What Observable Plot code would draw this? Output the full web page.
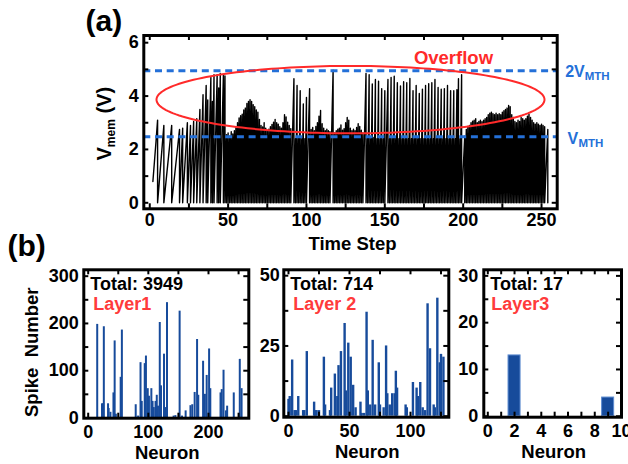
<!DOCTYPE html>
<html><head><meta charset="utf-8">
<script src="https://cdn.jsdelivr.net/npm/d3@7"></script>
<script src="https://cdn.jsdelivr.net/npm/@observablehq/plot@0.6"></script>
<style>
body{margin:0;background:#fff;}
#chart{position:relative;width:628px;height:464px;overflow:hidden;background:#fff;}
#chart svg{position:absolute;}
</style></head><body><div id="chart"></div>
<script>
// ---------- data: panel (a) membrane potential ----------
const vmemStartStep = 2;
const vmem = [
0.8,1.55,2.3,3.1,0.72,1.45,2.17,2.9,
0.58,1.16,1.74,2.32,2.9,0.55,1.1,1.65,2.2,2.75,
1.4,2.8,1.0,2.0,3.0,1.45,2.9,1.5,3.05,1.6,
3.15,1.75,3.5,2.0,4.05,2.2,4.4,3.85,2.35,4.7,
3.8,4.8,2.4,4.8,4.3,4.85,2.4,4.8,4.75,2.55,
2.62,2.5,2.66,2.58,2.7,2.85,3.0,3.18,3.26,3.32,
3.48,3.55,3.72,3.8,3.86,3.8,3.68,3.6,3.48,3.4,
3.12,2.9,2.84,3.0,2.8,2.7,2.76,2.85,2.94,3.02,
3.12,3.0,2.95,2.85,2.8,3.0,3.3,3.22,3.02,2.9,
2.78,2.3,4.65,2.4,4.4,2.45,4.2,2.4,3.7,2.4,
3.95,2.15,4.28,2.75,2.82,2.7,2.86,3.0,3.25,3.46,
2.96,2.8,2.7,2.76,2.7,2.66,2.45,4.97,2.62,2.7,
2.76,2.8,2.92,2.72,2.78,3.0,3.2,3.1,2.8,2.7,
2.76,2.7,2.82,2.96,2.86,2.72,2.62,2.4,4.85,2.4,
4.8,2.4,4.45,2.45,4.62,2.4,4.56,2.4,4.28,2.4,
4.2,2.3,4.62,2.4,4.7,2.4,4.74,2.45,4.5,2.4,
4.38,2.4,4.54,2.4,4.5,2.4,4.66,2.4,4.2,2.4,
4.4,2.4,4.1,2.4,4.26,2.4,4.4,2.4,4.46,2.4,
4.5,2.4,4.62,2.4,4.32,2.4,4.26,2.4,4.28,2.4,
4.4,2.4,4.2,2.4,4.2,2.4,4.24,4.65,2.4,4.8,
1.25,2.5,2.75,2.86,2.9,3.0,3.06,3.1,3.15,3.0,
3.05,3.1,3.04,3.1,3.15,3.2,3.3,3.36,3.4,3.34,
3.3,3.36,3.3,3.34,3.3,3.4,3.45,3.5,3.55,3.65,
3.6,3.3,3.2,3.05,3.0,3.1,3.05,3.2,3.15,3.1,
3.15,3.25,3.32,3.2,3.1,3.0,2.95,3.0,2.95,2.9,
2.95,2.9,2.85,1.4,2.75
];
const noResetSteps = [2,3,4,6,7,8,10,11,12,13,15,16,17,18,20,22,23,25,27,29,31,33,35,38,42,46,91,101,116,137,151,200,253];
const resetLevel = 0;
const vMTH = 2.475;
const twoVMTH = 4.95;
const overflowRegion = {cx: 128.1, cy: 3.866, rx: 123.8, ry: 1.264};
const overflowLabel = {t: 193.8, v: 5.21, text: "Overflow"};

// ---------- data: panel (b) spike counts ----------
const layer1Neuron = [15,23,25,26,33,34,37,42,44,46,54,56,79,83,87,89,94,96,99,101,105,107,109,112,114,116,119,121,126,128,131,142,145,152,156,162,170,173,177,181,183,191,194,197,201,203,220,222,225,229,231,242,252,255];
const layer1Count  = [198,30,30,193,30,20,12,53,163,8,86,186,28,4,117,35,115,131,62,46,62,35,22,35,48,25,202,68,135,22,244,4,5,226,4,15,26,28,54,166,48,120,50,90,146,62,53,60,101,15,25,53,124,62];
const layer2Neuron = [0,1,3,5,6,8,12,13,15,21,22,23,25,29,30,34,35,38,40,41,43,46,47,49,51,53,55,59,60,62,64,65,67,69,71,74,75,78,80,81,83,85,87,88,89,96,97,102,105,106,108,110,112,114,116,119,120,122,124,125,127];
const layer2Count  = [6,7,20,2,2,7,2,2,23,5,2,2,2,21,4,2,10,15,7,18,23,33,9,26,21,11,3,5,1,1,37,9,4,27,4,19,4,3,25,8,4,8,8,16,10,4,3,12,10,7,12,3,2,40,24,4,3,42,19,22,21];
const layer3Neuron = [2, 9];
const layer3Count  = [13, 4];
const layerTotals = [3949, 714, 17];
const layerNames = ["Layer1", "Layer 2", "Layer3"];

// ---------- styling ----------
const FONT = "'Liberation Sans', Arial, Helvetica, sans-serif";
const BLUE = "#2470d8";
const RED = "#ff2a2a";
const LRED = "#ff3b3b";
const BAR = "#174b9b";
const baseStyle = {fontFamily: FONT, fontWeight: "bold", fontSize: "18px", background: "transparent", color: "black", overflow: "visible"};
const txt = {fontFamily: FONT, fontWeight: "bold"};
const fmt = d => String(d);

function range(lo, hi, step) { const a = []; for (let k = 0; lo + k*step <= hi + 1e-9; k++) a.push(+(lo + k*step).toFixed(6)); return a; }
function frameTicks(xt, yt, fw, fh, len = 5) {
  const o = {stroke: "black", strokeWidth: 2};
  return [
    Plot.ruleX(xt, {x: d => d, insetTop: fh - len, ...o}),
    Plot.ruleX(xt, {x: d => d, insetBottom: fh - len, ...o}),
    Plot.ruleY(yt, {y: d => d, insetRight: fw - len, ...o}),
    Plot.ruleY(yt, {y: d => d, insetLeft: fw - len, ...o})
  ];
}
const chart = document.getElementById("chart");
function place(svg, left, top) { svg.style.left = left + "px"; svg.style.top = top + "px"; chart.appendChild(svg); }

// ---------- panel (a) ----------
const trace = [];
vmem.forEach((v, i) => {
  const t = vmemStartStep + i;
  trace.push({t, v});
  if (!noResetSteps.includes(t)) trace.push({t, v: resetLevel});
});
const ellipse = d3.range(0, 361, 2).map(a => {
  const r = a * Math.PI / 180;
  return {x: overflowRegion.cx + overflowRegion.rx * Math.cos(r), y: overflowRegion.cy + overflowRegion.ry * Math.sin(r)};
});
{
  const W = 628, H = 262, mL = 143.3, mR = 71.3, mT = 35, mB = 53.7;
  const fw = W - mL - mR, fh = H - mT - mB;
  const svg = Plot.plot({
    width: W, height: H, marginLeft: mL, marginRight: mR, marginTop: mT, marginBottom: mB,
    style: baseStyle,
    x: {domain: [-3.8, 260], label: null},
    y: {domain: [-0.225, 6.27], label: null},
    marks: [
      Plot.line(trace, {x: "t", y: "v", stroke: "black", strokeWidth: 1.4}),
      Plot.ruleY([vMTH, twoVMTH], {y: d => d, stroke: BLUE, strokeWidth: 3, strokeDasharray: "7,4.7"}),
      Plot.line(ellipse, {x: "x", y: "y", stroke: RED, strokeWidth: 2}),
      Plot.text([overflowLabel], {x: "t", y: "v", text: "text", fill: RED, fontSize: 18.5, textAnchor: "middle", lineAnchor: "bottom", ...txt}),
      Plot.text([twoVMTH], {y: d => d, text: () => "2V", frameAnchor: "right", dx: 8, dy: 6.7, textAnchor: "start", lineAnchor: "bottom", fill: BLUE, fontSize: 16, ...txt}),
      Plot.text([twoVMTH], {y: d => d, text: () => "MTH", frameAnchor: "right", dx: 27.5, dy: 9.7, textAnchor: "start", lineAnchor: "bottom", fill: BLUE, fontSize: 11.5, ...txt}),
      Plot.text([vMTH], {y: d => d, text: () => "V", frameAnchor: "right", dx: 10.3, dy: 7, textAnchor: "start", lineAnchor: "bottom", fill: BLUE, fontSize: 16, ...txt}),
      Plot.text([vMTH], {y: d => d, text: () => "MTH", frameAnchor: "right", dx: 21.3, dy: 10.4, textAnchor: "start", lineAnchor: "bottom", fill: BLUE, fontSize: 11.5, ...txt}),
      ...frameTicks(range(0, 250, 25), range(0, 6, 1), fw, fh),
      Plot.frame({stroke: "black", strokeWidth: 3}),
      Plot.axisX({ticks: range(0, 250, 50), tickFormat: fmt, tickSize: 0, tickPadding: 4.5, fontSize: 18, label: null, ...txt}),
      Plot.axisY({ticks: range(0, 6, 2), tickFormat: fmt, tickSize: 0, tickPadding: 5, fontSize: 18, label: null, ...txt}),
      Plot.text(["Time Step"], {frameAnchor: "bottom", dx: 2, dy: 40.7, lineAnchor: "bottom", fontSize: 18.5, ...txt}),
      Plot.text(["V"], {frameAnchor: "left", rotate: -90, textAnchor: "start", lineAnchor: "bottom", dx: -32.8, dy: 38.35, fontSize: 20, ...txt}),
      Plot.text(["mem"], {frameAnchor: "left", rotate: -90, textAnchor: "start", lineAnchor: "bottom", dx: -28.8, dy: 25, fontSize: 12, ...txt}),
      Plot.text(["(V)"], {frameAnchor: "left", rotate: -90, textAnchor: "start", lineAnchor: "bottom", dx: -32.8, dy: -8.55, fontSize: 20, ...txt}),
      Plot.text(["(a)"], {frameAnchor: "top-left", dx: -58.3, dy: -4.3, textAnchor: "start", lineAnchor: "bottom", fontSize: 30, ...txt})
    ]
  });
  place(svg, 0, 0);
}

// ---------- panel (b) ----------
function layerPanel(cfg) {
  const {W, H, mL, mR, mT, mB, xDomain, yDomain, xTicks, xLabels, yTicks, yLabels, bars, total, name, nameDx, extra = [], yPad = 5} = cfg;
  const fw = W - mL - mR, fh = H - mT - mB;
  return Plot.plot({
    width: W, height: H, marginLeft: mL, marginRight: mR, marginTop: mT, marginBottom: mB,
    style: baseStyle,
    x: {domain: xDomain, label: null},
    y: {domain: yDomain, label: null},
    marks: [
      ...bars,
      ...frameTicks(xTicks, yTicks, fw, fh),
      Plot.frame({stroke: "black", strokeWidth: 3}),
      Plot.axisX({ticks: xLabels, tickFormat: fmt, tickSize: 0, tickPadding: 7, fontSize: 18, label: null, ...txt}),
      Plot.axisY({ticks: yLabels, tickFormat: fmt, tickSize: 0, tickPadding: yPad, fontSize: 18, label: null, ...txt}),
      Plot.text([total], {text: d => "Total: " + d, frameAnchor: "top-left", dx: 6.5, dy: 20.5, textAnchor: "start", lineAnchor: "bottom", fontSize: 18, ...txt}),
      Plot.text([name], {text: d => d, frameAnchor: "top-left", dx: nameDx, dy: 40, textAnchor: "start", lineAnchor: "bottom", fontSize: 18, fill: LRED, ...txt}),
      Plot.text(["Neuron"], {frameAnchor: "bottom", dx: 1, dy: 41, lineAnchor: "bottom", fontSize: 18.5, ...txt}),
      ...extra
    ]
  });
}
const idx1 = layer1Neuron.map((_, i) => i);
const idx2 = layer2Neuron.map((_, i) => i);
const idx3 = layer3Neuron.map((_, i) => i);

place(layerPanel({
  W: 262, H: 242, mL: 83.3, mR: 13.7, mT: 47.3, mB: 46.3,
  xDomain: [-7.3, 267], yDomain: [-0.5, 313.5],
  xTicks: range(0, 250, 50), xLabels: [0, 100, 200], yTicks: range(0, 300, 50), yLabels: [0, 100, 200, 300],
  bars: [Plot.ruleX(idx1, {x: i => layer1Neuron[i], y1: 0, y2: i => layer1Count[i], stroke: BAR, strokeWidth: 2})],
  total: layerTotals[0], name: layerNames[0], nameDx: 9.4,
  extra: [
    Plot.text(["Spike  Number"], {frameAnchor: "left", rotate: -90, textAnchor: "middle", lineAnchor: "bottom", dx: -46, dy: 8.2, fontSize: 18.5, ...txt}),
    Plot.text(["(b)"], {frameAnchor: "top-left", dx: -76.3, dy: -13.5, textAnchor: "start", lineAnchor: "bottom", fontSize: 30, ...txt})
  ]
}), 0, 222);

place(layerPanel({
  W: 203, H: 202, mL: 31.3, mR: 6.7, mT: 7.3, mB: 47.3,
  xDomain: [-3.85, 131.4], yDomain: [-0.36, 52.1],
  xTicks: range(0, 125, 25), xLabels: [0, 50, 100], yTicks: range(0, 50, 12.5), yLabels: [0, 25, 50],
  bars: [Plot.ruleX(idx2, {x: i => layer2Neuron[i], y1: 0, y2: i => layer2Count[i], stroke: BAR, strokeWidth: 2.4})],
  total: layerTotals[1], name: layerNames[1], nameDx: 9.4, yPad: 4
}), 252, 262);

place(layerPanel({
  W: 178, H: 202, mL: 33.3, mR: 7, mT: 7.3, mB: 47.3,
  xDomain: [-0.3, 10], yDomain: [-0.2, 31.3],
  xTicks: range(0, 10, 1), xLabels: range(0, 10, 2), yTicks: range(0, 30, 5), yLabels: [0, 10, 20, 30],
  bars: [Plot.rectY(idx3, {x1: i => layer3Neuron[i] - 0.45, x2: i => layer3Neuron[i] + 0.45, y1: 0, y2: i => layer3Count[i], fill: BAR, stroke: "#5d8bd0", strokeWidth: 1})],
  total: layerTotals[2], name: layerNames[2], nameDx: 7.4, yPad: 5.5
}), 450, 262);
</script></body></html>
